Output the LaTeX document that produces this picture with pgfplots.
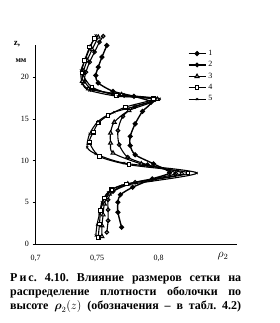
\documentclass[border=0pt]{standalone}
\usepackage{amsmath}
\usepackage{fontspec}
\setmainfont{Liberation Serif}
\usepackage{pgfplots}
\pgfplotsset{compat=1.18}
\begin{document}
\begin{tikzpicture}[x=1pt,y=1pt]
\path[use as bounding box] (0,0) rectangle (279,323);
\begin{axis}[
  at={(35.5pt,79pt)}, anchor=south west,
  scale only axis, width=201.5pt, height=199pt,
  xmin=0.7, xmax=0.8638, ymin=0, ymax=23.85,
  axis lines=left, axis line style={-, line width=0.6pt},
  clip=false,
  xtick={0.7,0.75,0.8}, xticklabels={{0,7},{0,75},{0,8}},
  ytick={0,5,10,15,20},
  tick style={black, line width=0.5pt},
  xtick style={draw=none},
  tick align=outside, major tick length=3pt,
  ticklabel style={font=\fontsize{8}{9}\selectfont},
  /pgf/number format/assume math mode=true,
  xticklabel style={yshift=-5pt},
  legend style={draw=none, fill=none, at={(0.74,0.995)}, anchor=north west,
    font=\fontsize{8}{9}\selectfont, row sep=0.6pt},
  legend cell align=left,
  every axis plot/.append style={black, line width=1.1pt, smooth, tension=0.45, mark options={solid, line width=0.6pt}},
]
\addplot[mark=*, mark size=1.8pt, line width=1.4pt, mark options={fill=black}] coordinates {(0.770,2.0)(0.767,3.8)(0.767,5.0)(0.769,5.9)(0.779,6.8)(0.795,7.8)(0.809,8.55)(0.796,9.6)(0.781,10.7)(0.777,11.8)(0.777,12.9)(0.781,14.4)(0.787,15.9)(0.794,17.0)(0.780,17.7)(0.763,18.3)(0.751,19.3)(0.749,20.2)(0.751,21.2)(0.754,22.4)(0.758,23.8)};
\addlegendentry{1}
\addplot[mark=o, mark size=1.8pt, mark options={fill=white}] coordinates {(0.758,1.4)(0.759,2.8)(0.759,4.1)(0.759,5.3)(0.763,6.3)(0.781,7.4)(0.814,8.45)(0.791,9.5)(0.775,10.4)(0.768,11.9)(0.767,13.6)(0.771,15.3)(0.781,16.5)(0.797,17.3)(0.772,17.8)(0.747,18.5)(0.740,19.5)(0.741,20.6)(0.744,21.8)(0.748,23.0)(0.752,24.2)(0.755,24.9)};
\addlegendentry{2}
\addplot[mark=triangle*, mark size=2.2pt, mark options={fill=white}] coordinates {(0.754,0.9)(0.754,2.2)(0.755,3.5)(0.756,4.8)(0.760,6.0)(0.775,7.2)(0.819,8.45)(0.786,9.6)(0.763,10.9)(0.761,12.1)(0.761,13.3)(0.764,14.6)(0.776,16.0)(0.799,17.35)(0.770,17.9)(0.743,18.6)(0.738,19.5)(0.739,20.7)(0.742,22.0)(0.746,23.3)(0.751,24.8)};
\addlegendentry{3}
\addplot[mark=square*, mark size=1.8pt, mark options={fill=white}] coordinates {(0.751,0.8)(0.752,2.4)(0.753,4.0)(0.756,5.5)(0.762,6.5)(0.774,7.2)(0.824,8.5)(0.776,9.5)(0.752,10.5)(0.744,12.2)(0.747,13.4)(0.751,14.5)(0.759,15.4)(0.773,16.4)(0.796,17.4)(0.766,17.8)(0.746,18.8)(0.738,20.5)(0.740,22.0)(0.744,23.6)(0.748,24.6)};
\addlegendentry{4}
\addplot[mark=x, mark size=1.6pt] coordinates {(0.749,1.0)(0.750,2.3)(0.752,3.6)(0.754,5.0)(0.759,6.2)(0.771,7.0)(0.831,8.5)(0.772,9.7)(0.749,10.8)(0.742,11.6)(0.744,13.2)(0.751,14.7)(0.764,15.8)(0.801,17.4)(0.767,17.7)(0.744,18.4)(0.738,19.2)(0.737,20.8)(0.741,22.3)(0.745,23.8)(0.749,25.0)};
\addlegendentry{5}
\end{axis}
\node[font=\bfseries\fontsize{9}{10}\selectfont] at (17,279) {z,};
\node[font=\bfseries\fontsize{8}{9}\selectfont] at (21,262) {мм};
\node[font=\fontsize{12}{13}\selectfont] at (223,67) {$\rho_2$};
\node[anchor=north west, inner sep=0pt, font=\bfseries\fontsize{12}{14}\selectfont, text width=231pt, align=left] at (10,50) {%
\makebox[231pt]{Р\,и\,с.\hfill 4.10.\hfill Влияние\hfill размеров\hfill сетки\hfill на}\\
\makebox[231pt]{распределение\hfill плотности\hfill оболочки\hfill по}\\
\makebox[231pt]{высоте\hfill $\boldsymbol{\rho}_2(z)$\hfill (обозначения\hfill –\hfill в\hfill табл.\hfill 4.2)}};
\end{tikzpicture}
\end{document}
